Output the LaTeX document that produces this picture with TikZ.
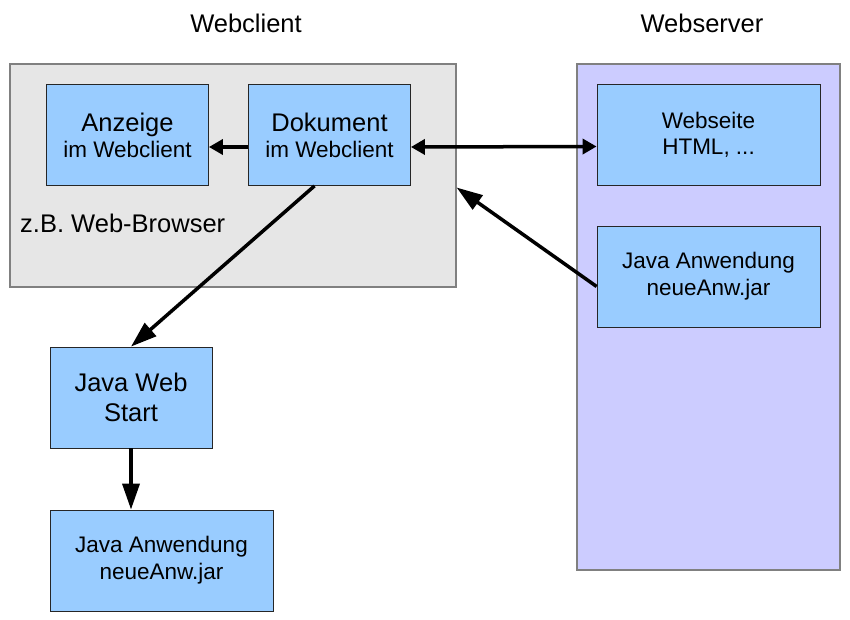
\documentclass[tikz,border=0pt]{standalone}
\usepackage{fontspec}
\setmainfont{Liberation Sans}
\usetikzlibrary{arrows.meta}
\definecolor{boxblue}{HTML}{99CCFF}
\definecolor{serverfill}{HTML}{CCCCFF}
\definecolor{clientfill}{HTML}{E6E6E6}
\newcommand{\bigtxt}{\fontsize{25.5}{26}\selectfont}

\begin{document}
\begin{tikzpicture}[x=1pt,y=-1pt,
  box/.style={draw=black!85,fill=boxblue,line width=0.8pt,inner sep=0pt,
    minimum width=162pt,minimum height=101pt,align=center,
    font=\fontsize{22.5}{26}\selectfont},
  widebox/.style={box,minimum width=223pt},
  area/.style={draw=black!50,line width=1.2pt,inner sep=0pt},
  con/.style={line width=3.5pt,-{Triangle[length=14pt,width=15pt]}},
  conlong/.style={line width=3.5pt,-{Triangle[length=26pt,width=17pt]}}]
\useasboundingbox (0,0) rectangle (850,620);
%%% Bereiche
\node[area,fill=clientfill,minimum width=446pt,minimum height=223pt] (browser) at (233,175.5) {};
\node[area,fill=serverfill,minimum width=263pt,minimum height=506pt] (server) at (708.5,317) {};
\node[font=\bigtxt,anchor=base] (clienttitle) at (246,33) {Webclient};
\node[font=\bigtxt,anchor=base] (servertitle) at (702,33) {Webserver};
\node[font=\bigtxt,anchor=base west,inner sep=0pt] (browserlabel) at (20,233) {z.B. Web-Browser};
%%% Knoten
\node[box] (anzeige) at (127.5,135) {{\bigtxt Anzeige}\\im Webclient};
\node[box] (dokument) at (329.5,135) {{\bigtxt Dokument}\\im Webclient};
\node[widebox] (webseite) at (708.5,134.5) {Webseite\\HTML, ...};
\node[widebox,font=\fontsize{22.5}{27}\selectfont] (serverjar) at (708.5,276.5) {Java Anwendung\\neueAnw.jar};
\node[box,font=\fontsize{25.5}{30}\selectfont] (jws) at (131,397.5) {Java Web\\Start};
\node[widebox,font=\fontsize{22.5}{27}\selectfont] (clientjar) at (161.5,560.5) {Java Anwendung\\neueAnw.jar};
%%% Pfeile
\draw[con] ([yshift=-12pt]dokument.west) -- ([yshift=-12pt]anzeige.east);
\draw[con,{Triangle[length=14pt,width=15pt]}-{Triangle[length=14pt,width=15pt]}] ([yshift=-12pt]dokument.east) -- ([yshift=-12pt]webseite.west);
\draw[conlong] ([yshift=-10pt]serverjar.west) -- ([yshift=-12pt]browser.east);
\draw[conlong] ([xshift=-15pt]dokument.south) -- (jws.north);
\draw[conlong] (jws.south) -- (jws.south |- clientjar.north);

\end{tikzpicture}
\end{document}
